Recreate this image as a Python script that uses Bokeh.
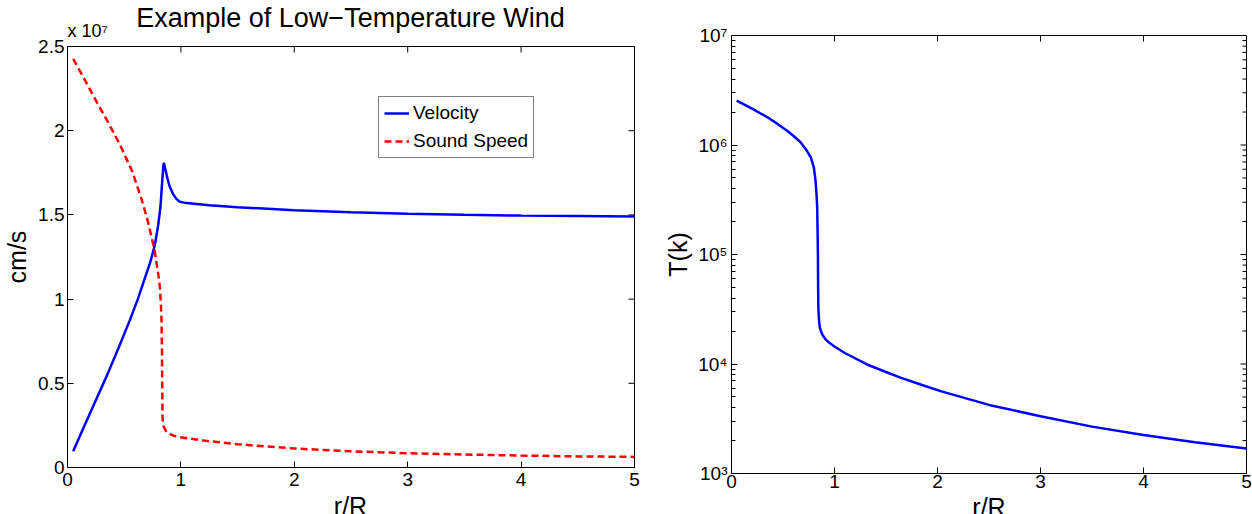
import math
from bokeh.plotting import figure
from bokeh.models import Range1d, Label, FixedTicker, Legend, LegendItem
from bokeh.layouts import row, column
from bokeh.embed import file_html
from bokeh.resources import INLINE

# ---------------- data ----------------
vel_r = [0.05, 0.15, 0.25, 0.35, 0.45, 0.55, 0.62, 0.68, 0.73, 0.77, 0.80, 0.82,
         0.835, 0.845, 0.850, 0.86, 0.88, 0.90, 0.93, 0.96, 0.99, 1.05, 1.25, 1.5,
         2.0, 2.5, 3.0, 3.5, 4.0, 4.5, 5.0]
vel_v = [0.097e7, 0.25e7, 0.40e7, 0.55e7, 0.71e7, 0.875e7, 1.00e7, 1.12e7, 1.22e7,
         1.32e7, 1.44e7, 1.55e7, 1.70e7, 1.79e7, 1.81e7, 1.78e7, 1.72e7, 1.67e7,
         1.625e7, 1.595e7, 1.578e7, 1.570e7, 1.558e7, 1.546e7, 1.527e7, 1.515e7,
         1.507e7, 1.501e7, 1.496e7, 1.493e7, 1.490e7]

snd_r = [0.05, 0.15, 0.27, 0.35, 0.46, 0.57, 0.65, 0.70, 0.765, 0.80, 0.815, 0.825,
         0.829, 0.833, 0.836, 0.838, 0.842, 0.850, 0.873, 0.92, 0.975, 1.2, 1.5,
         2.0, 2.5, 3.0, 3.5, 4.0, 4.5, 5.0]
snd_v = [2.427e7, 2.305e7, 2.155e7, 2.06e7, 1.92e7, 1.76e7, 1.60e7, 1.485e7, 1.30e7,
         1.15e7, 1.07e7, 0.95e7, 0.874e7, 0.70e7, 0.45e7, 0.30e7, 0.26e7, 0.24e7,
         0.211e7, 0.193e7, 0.182e7, 0.160e7, 0.138e7, 0.113e7, 0.096e7, 0.085e7,
         0.077e7, 0.071e7, 0.066e7, 0.063e7]

temp_r = [0.05, 0.2, 0.35, 0.45, 0.54, 0.62, 0.67, 0.72, 0.77, 0.80, 0.816, 0.826,
          0.832, 0.836, 0.839, 0.841, 0.843, 0.85, 0.858, 0.88, 0.913, 0.95, 0.993,
          1.1, 1.316, 1.5, 1.64, 1.85, 2.03, 2.5, 3.0, 3.5, 4.0, 4.5, 5.0]
temp_T = [2.54e6, 2.15e6, 1.79e6, 1.55e6, 1.35e6, 1.17e6, 1.06e6, 9.2e5, 7.7e5, 6.2e5,
          4.7e5, 3.5e5, 2.7e5, 1.6e5, 1.0e5, 5.0e4, 3.3e4, 2.5e4, 2.14e4, 1.87e4,
          1.68e4, 1.56e4, 1.46e4, 1.26e4, 9.9e3, 8.45e3, 7.5e3, 6.43e3, 5.65e3, 4.23e3,
          3.33e3, 2.68e3, 2.25e3, 1.93e3, 1.69e3]

x_ticks = [0, 1, 2, 3, 4, 5]
v_ticks = [0, 5e6, 1e7, 1.5e7, 2e7, 2.5e7]
v_tick_labels = ["0", "0.5", "1", "1.5", "2", "2.5"]
t_ticks = [1e3, 1e4, 1e5, 1e6, 1e7]
t_tick_labels = ["10³", "10⁴", "10⁵", "10⁶", "10⁷"]
t_minor = [m * 10 ** k for k in range(3, 7) for m in range(2, 10)]

title_text = "Example of Low−Temperature Wind"
multiplier_text = "x 10⁷"
xlabel_text = "r/R"
ylabel_left = "cm/s"
ylabel_right = "T(k)"

FONT = "Liberation Sans"
TICK_SIZE = "19px"
LABEL_SIZE = "25px"


def style_axis(ax):
    ax.axis_line_color = "black"
    ax.axis_line_width = 1
    ax.major_tick_in = 6
    ax.major_tick_out = 0
    ax.major_tick_line_color = "black"
    ax.minor_tick_in = 4
    ax.minor_tick_out = 0
    ax.major_label_text_font = FONT
    ax.major_label_text_color = "black"
    ax.major_label_text_font_size = TICK_SIZE
    ax.axis_label_text_font = FONT
    ax.axis_label_text_font_style = "normal"
    ax.axis_label_text_color = "black"
    ax.axis_label_text_font_size = LABEL_SIZE


def mirror_ticks(p, xt, yt, xmax, ymax, yminor=None):
    # inward tick marks on the top and right edges (MATLAB box style)
    p.ray(x=xt, y=[ymax] * len(xt), length=6, length_units="screen",
          angle=-math.pi / 2, line_color="black", line_width=1)
    p.ray(x=[xmax] * len(yt), y=yt, length=6, length_units="screen",
          angle=math.pi, line_color="black", line_width=1)
    if yminor:
        p.ray(x=[xmax] * len(yminor), y=yminor, length=4, length_units="screen",
              angle=math.pi, line_color="black", line_width=1)


def strip(w, h):
    # a bare text band (pixel coordinates, y measured from the band's bottom)
    s = figure(width=w, height=h, output_backend="svg", toolbar_location=None,
               x_range=Range1d(0, w), y_range=Range1d(0, h),
               x_axis_location=None, y_axis_location=None, min_border=0)
    s.grid.visible = False
    s.outline_line_color = None
    s.background_fill_color = "white"
    s.border_fill_color = "white"
    return s


def put_text(p, x, y, txt, size, align="center"):
    p.add_layout(Label(x=x, y=y, text=txt, text_font=FONT, text_font_size=size,
                       text_color="black", text_align=align, text_baseline="top"))


# ---------------- left panel ----------------
W1 = 654
top1 = strip(W1, 38)
put_text(top1, 350, 36, title_text, "27px")
put_text(top1, 67, 17.5, multiplier_text, "18px", align="left")

p1 = figure(width=W1, height=457, output_backend="svg", toolbar_location=None,
            x_range=Range1d(0, 5), y_range=Range1d(0, 2.5e7),
            min_border_left=66, min_border_right=20, min_border_top=8, min_border_bottom=28)
p1.grid.visible = False
p1.outline_line_color = "black"
p1.background_fill_color = "white"
p1.border_fill_color = "white"

p1.xaxis.ticker = FixedTicker(ticks=x_ticks)
p1.yaxis.ticker = FixedTicker(ticks=v_ticks)
p1.yaxis.major_label_overrides = {t: l for t, l in zip(v_ticks, v_tick_labels)}
for ax in p1.xaxis + p1.yaxis:
    style_axis(ax)
    ax.minor_tick_line_color = None
p1.xaxis.major_label_standoff = 5
p1.yaxis.major_label_standoff = 3
p1.yaxis.axis_label = ylabel_left
p1.yaxis.axis_label_standoff = 4

mirror_ticks(p1, x_ticks, v_ticks, 5, 2.5e7)

r_vel = p1.line(vel_r, vel_v, line_color="#0000ff", line_width=2.5)
r_snd = p1.line(snd_r, snd_v, line_color="#ff0000", line_width=2.5, line_dash="7 4")

legend = Legend(items=[LegendItem(label="Velocity", renderers=[r_vel]),
                       LegendItem(label="Sound Speed", renderers=[r_snd])],
                location=(311, 309), border_line_color="black", border_line_width=1,
                background_fill_color="white", background_fill_alpha=1.0,
                padding=5, spacing=6, margin=0, glyph_width=25, glyph_height=20,
                label_height=20, label_standoff=4, label_text_font=FONT,
                label_text_font_size="19px", label_text_color="black")
p1.add_layout(legend)

bot1 = strip(W1, 19)
put_text(bot1, 350, 22.5, xlabel_text, LABEL_SIZE)

# ---------------- right panel ----------------
W2 = 598
p2 = figure(width=W2, height=496, output_backend="svg", toolbar_location=None,
            x_range=Range1d(0, 5), y_range=Range1d(1e3, 1e7), y_axis_type="log",
            min_border_left=77, min_border_right=6, min_border_top=35, min_border_bottom=23)
p2.grid.visible = False
p2.outline_line_color = "black"
p2.background_fill_color = "white"
p2.border_fill_color = "white"

p2.xaxis.ticker = FixedTicker(ticks=x_ticks)
p2.yaxis.ticker = FixedTicker(ticks=t_ticks, minor_ticks=t_minor)
p2.yaxis.major_label_overrides = {t: l for t, l in zip(t_ticks, t_tick_labels)}
for ax in p2.xaxis:
    style_axis(ax)
    ax.minor_tick_line_color = None
    ax.major_label_standoff = 1
for ax in p2.yaxis:
    style_axis(ax)
    ax.major_label_standoff = 4
p2.yaxis.axis_label = ylabel_right
p2.yaxis.axis_label_standoff = 3

mirror_ticks(p2, x_ticks, t_ticks, 5, 1e7, yminor=t_minor)

p2.line(temp_r, temp_T, line_color="#0000ff", line_width=2.5)

bot2 = strip(W2, 18)
put_text(bot2, 334.5, 21.5, xlabel_text, LABEL_SIZE)

layout = row(column(row(top1), row(p1), row(bot1)),
             column(row(p2), row(bot2)))
open("out.html", "w").write(file_html(layout, INLINE))
